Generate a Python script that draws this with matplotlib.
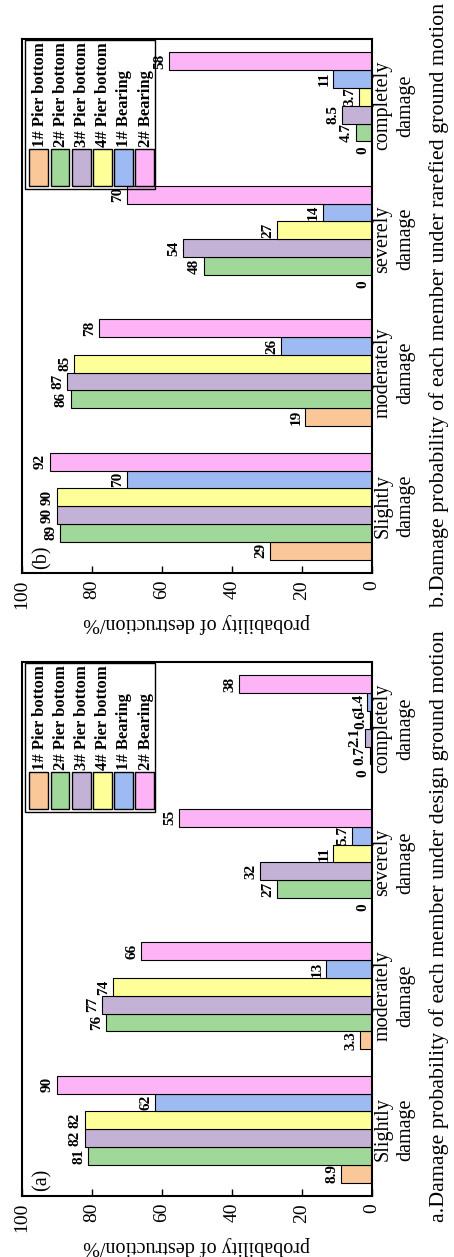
import matplotlib.pyplot as plt
from matplotlib.patches import Rectangle
import numpy as np

plt.rcParams['font.family'] = ['Liberation Serif', 'DejaVu Serif']

categories = ["Slightly\ndamage", "moderately\ndamage", "severely\ndamage", "completely\ndamage"]
members = ["1# Pier bottom", "2# Pier bottom", "3# Pier bottom", "4# Pier bottom", "1# Bearing", "2# Bearing"]
colors = ["#FAC898", "#A0D89A", "#C3B1D6", "#FFFF99", "#9DBAF2", "#FDB4F6"]

# a. design ground motion
design_pier1 = [8.9, 3.3, 0, 0]
design_pier2 = [81, 76, 27, 0.7]
design_pier3 = [82, 77, 32, 2.1]
design_pier4 = [82, 74, 11, 0.6]
design_bearing1 = [62, 13, 5.7, 1.4]
design_bearing2 = [90, 66, 55, 38]

# b. rarefied ground motion
rare_pier1 = [29, 19, 0, 0]
rare_pier2 = [89, 86, 48, 4.7]
rare_pier3 = [90, 87, 54, 8.5]
rare_pier4 = [90, 85, 27, 3.7]
rare_bearing1 = [70, 26, 14, 11]
rare_bearing2 = [92, 78, 70, 58]

design = [design_pier1, design_pier2, design_pier3, design_pier4, design_bearing1, design_bearing2]
rare = [rare_pier1, rare_pier2, rare_pier3, rare_pier4, rare_bearing1, rare_bearing2]

fig = plt.figure(figsize=(4.54, 12.57), dpi=100)


def draw_panel(ax, data, tag):
    w = 0.8 / 6
    y = np.arange(len(categories))
    for j, vals in enumerate(data):
        pos = y + (j - 2.5) * w
        ax.barh(pos, vals, height=w, color=colors[j], edgecolor='black', linewidth=0.8)
        for p, v in zip(pos, vals):
            ax.annotate(f"{v:g}", xy=(v, p), xytext=(-2, 0), textcoords='offset points',
                        rotation=90, ha='right', va='center', fontsize=11, fontweight='bold')
    ax.set_xlim(100, 0)
    ax.set_ylim(-0.5, 3.5)
    ax.set_xticks([0, 20, 40, 60, 80, 100])
    ax.tick_params(axis='x', direction='in', length=5, width=1, labelsize=14, pad=5,
                   labelrotation=90, top=False)
    ax.yaxis.tick_right()
    ax.set_yticks(y)
    ax.set_yticklabels(categories, rotation=90, va='center', ha='left',
                       multialignment='center', linespacing=1.3)
    ax.tick_params(axis='y', length=0, labelsize=14.5, pad=1)
    for s in ax.spines.values():
        s.set_linewidth(1.5)
    ax.set_xlabel("probability of destruction/%", rotation=180, fontsize=14.5, va='center')
    ax.xaxis.set_label_coords(0.5, -0.094)
    ax.text(0.058, 0.03, tag, transform=ax.transAxes, rotation=90,
            ha='center', va='center', fontsize=14.5)

    # legend, drawn by hand because it is turned on its side
    ax.add_patch(Rectangle((0.009, 0.719), 0.371, 0.279, transform=ax.transAxes,
                           fill=False, edgecolor='black', linewidth=1))
    for j, name in enumerate(members):
        cx = 0.049 + j * 0.0603
        ax.add_patch(Rectangle((cx - 0.027, 0.724), 0.054, 0.07, transform=ax.transAxes,
                               facecolor=colors[j], edgecolor='black', linewidth=1))
        ax.text(cx + 0.003, 0.798, name, transform=ax.transAxes, rotation=90,
                ha='center', va='bottom', fontsize=12, fontweight='bold')


ax_b = fig.add_axes([0.0478, 0.5442, 0.7716, 0.4248])
draw_panel(ax_b, rare, "(b)")
ax_a = fig.add_axes([0.0478, 0.0485, 0.7716, 0.4248])
draw_panel(ax_a, design, "(a)")

fig.text(0.968, 0.7578, "b.Damage probability of each member under rarefied ground motion",
         rotation=90, ha='center', va='center', fontsize=15.8)
fig.text(0.968, 0.2629, "a.Damage probability of each member under design ground motion",
         rotation=90, ha='center', va='center', fontsize=15.8)

fig.savefig("out.png", dpi=100)
